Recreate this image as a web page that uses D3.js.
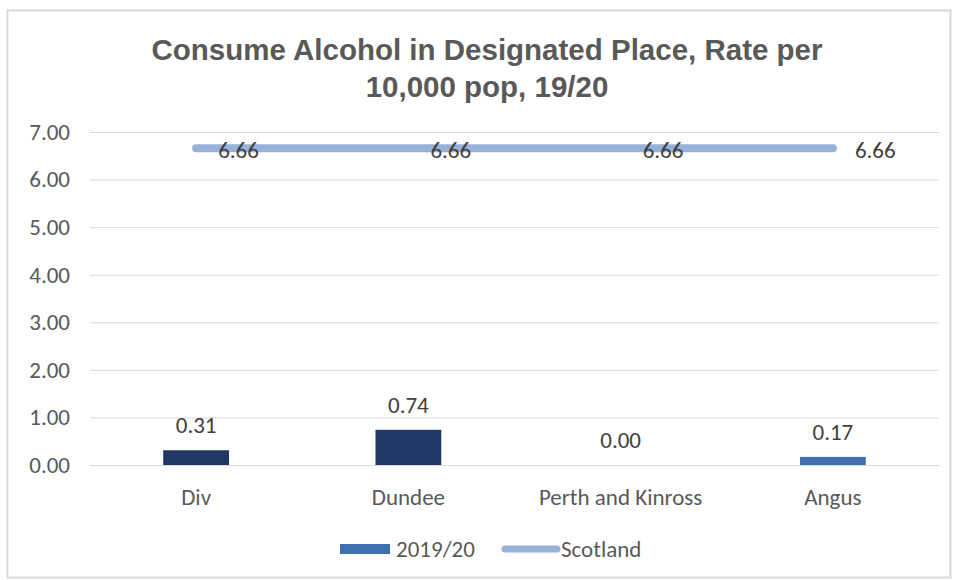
<!DOCTYPE html>
<html>
<head>
<meta charset="utf-8">
<script src="https://cdn.jsdelivr.net/npm/d3@7"></script>
<style>
  body { margin: 0; background: #fff; }
  text { font-family: Carlito, Lato, "Open Sans", sans-serif; }
</style>
</head>
<body>
<div class="chart"></div>
<script>
const categories = ["Div", "Dundee", "Perth and Kinross", "Angus"];
const rates = [0.31, 0.74, 0.00, 0.17];
const scotland = [6.66, 6.66, 6.66, 6.66];
const barColors = ["#1f3864", "#1f3864", "#1f3864", "#3f6fae"];
const yTicks = [0, 1, 2, 3, 4, 5, 6, 7];
const titleLines = ["Consume Alcohol in Designated Place, Rate per", "10,000 pop, 19/20"];

const width = 957;
const height = 580;
const plot = { left: 90, right: 939, top: 132, bottom: 465 };
const labelSize = "23px";

const svg = d3.select(".chart").append("svg")
    .attr("width", width)
    .attr("height", height);

// chart frame
svg.append("rect")
    .attr("x", 7.5).attr("y", 10.5)
    .attr("width", 943).attr("height", 567)
    .attr("fill", "#fff")
    .attr("stroke", "#d9d9d9")
    .attr("stroke-width", 2);

// title
svg.append("g").selectAll("text")
    .data(titleLines)
    .enter()
    .append("text")
    .attr("x", 487)
    .attr("y", (d, i) => 60 + i * 37)
    .attr("text-anchor", "middle")
    .attr("fill", "#595959")
    .style("font-family", "'Liberation Sans', Arial, sans-serif")
    .style("font-weight", "bold")
    .style("font-size", "29.5px")
    .text(d => d);

let xScale = d3.scaleBand()
    .domain(categories)
    .range([plot.left, plot.right])
    .paddingInner(0.69)
    .paddingOuter(0.345);

let yScale = d3.scaleLinear()
    .domain([0, 7])
    .range([plot.bottom, plot.top]);

// gridlines + y labels
let yAxis = d3.axisLeft(yScale)
    .tickValues(yTicks)
    .tickSize(-(plot.right - plot.left))
    .tickPadding(20)
    .tickFormat(d3.format(".2f"));

let yG = svg.append("g")
    .attr("transform", "translate(" + plot.left + ",0)")
    .call(yAxis);
yG.select(".domain").remove();
yG.selectAll(".tick line").attr("stroke", "#d9d9d9");
yG.selectAll(".tick text")
    .attr("fill", "#595959")
    .style("font-size", labelSize);

// x labels
let xAxis = d3.axisBottom(xScale).tickSize(0).tickPadding(24);
let xG = svg.append("g")
    .attr("transform", "translate(0," + plot.bottom + ")")
    .call(xAxis);
xG.select(".domain").remove();
xG.selectAll(".tick text")
    .attr("fill", "#595959")
    .style("font-size", labelSize);

// bars
svg.append("g").selectAll("rect")
    .data(rates)
    .enter()
    .append("rect")
    .attr("x", (d, i) => xScale(categories[i]))
    .attr("y", d => yScale(d))
    .attr("width", xScale.bandwidth())
    .attr("height", d => plot.bottom - yScale(d))
    .attr("fill", (d, i) => barColors[i]);

svg.append("g").selectAll("text")
    .data(rates)
    .enter()
    .append("text")
    .attr("x", (d, i) => xScale(categories[i]) + xScale.bandwidth() / 2)
    .attr("y", d => yScale(d) - 17)
    .attr("text-anchor", "middle")
    .attr("fill", "#404040")
    .style("font-size", labelSize)
    .text(d => d3.format(".2f")(d));

// Scotland line
const cx = i => xScale(categories[i]) + xScale.bandwidth() / 2;
let line = d3.line()
    .x((d, i) => cx(i))
    .y(d => yScale(d));

svg.append("path")
    .datum(scotland)
    .attr("d", line)
    .attr("fill", "none")
    .attr("stroke", "#98b1d8")
    .attr("stroke-width", 8)
    .attr("stroke-linecap", "round");

svg.append("g").selectAll("text")
    .data(scotland)
    .enter()
    .append("text")
    .attr("x", (d, i) => cx(i) + 22)
    .attr("y", d => yScale(d) + 10)
    .attr("fill", "#404040")
    .style("font-size", labelSize)
    .text(d => d3.format(".2f")(d));

// legend
let legend = svg.append("g").attr("transform", "translate(0,549)");
legend.append("rect")
    .attr("x", 340).attr("y", -5)
    .attr("width", 50).attr("height", 10)
    .attr("fill", "#3f6fae");
legend.append("text")
    .attr("x", 396).attr("y", 8)
    .attr("fill", "#595959")
    .style("font-size", labelSize)
    .text("2019/20");
legend.append("line")
    .attr("x1", 505).attr("x2", 557)
    .attr("y1", 0).attr("y2", 0)
    .attr("stroke", "#98b1d8")
    .attr("stroke-width", 7)
    .attr("stroke-linecap", "round");
legend.append("text")
    .attr("x", 561).attr("y", 8)
    .attr("fill", "#595959")
    .style("font-size", labelSize)
    .text("Scotland");
</script>
</body>
</html>
